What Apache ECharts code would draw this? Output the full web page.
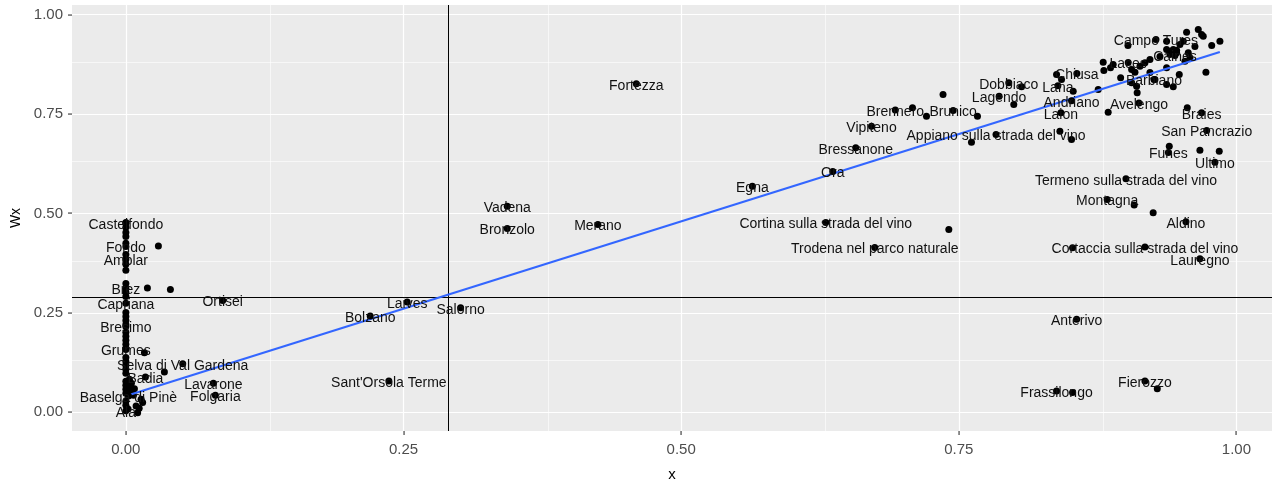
<!DOCTYPE html>
<html>
<head>
<meta charset="utf-8">
<script src="https://cdn.jsdelivr.net/npm/echarts@6/dist/echarts.min.js"></script>
<style>
  html, body { margin: 0; padding: 0; background: #fff; }
  #chart { width: 1274px; height: 481px; }
</style>
</head>
<body>
<div id="chart"></div>
<script>
// comuni con etichetta: nome, x, Wx
const labNames = [
  'Castelfondo', 'Fondo', 'Amblar', 'Brez', 'Capriana', 'Ortisei', 'Bresimo', 'Grumes',
  'Selva di Val Gardena', 'Badia', 'Lavarone', 'Folgaria', 'Baselga di Pinè', 'Ala',
  'Laives', 'Bolzano', 'Salorno', "Sant'Orsola Terme", 'Vadena', 'Bronzolo', 'Merano',
  'Fortezza', 'Egna', 'Cortina sulla strada del vino', 'Trodena nel parco naturale', 'Ora',
  'Bressanone', 'Vipiteno', 'Brennero', 'Brunico', 'Appiano sulla strada del vino',
  'Dobbiaco', 'Lagendo', 'Lana', 'Chiusa', 'Andriano', 'Laion', 'Campo Tures', 'Laces',
  'Caines', 'Barbiano', 'Avelengo', 'Braies', 'San Pancrazio', 'Funes', 'Ultimo',
  'Termeno sulla strada del vino', 'Montagna', 'Aldino', 'Cortaccia sulla strada del vino',
  'Lauregno', 'Anterivo', 'Frassilongo', 'Fierozzo'
]
const labX = [
  0, 0, 0, 0, 0, 0.0872, 0, 0,
  0.0512, 0.0176, 0.0788, 0.0806, 0.0023, 0,
  0.2533, 0.2200, 0.3014, 0.2368, 0.3434, 0.3434, 0.4250,
  0.4596, 0.5641, 0.6302, 0.6743, 0.6365,
  0.6572, 0.6714, 0.6928, 0.7449, 0.7835,
  0.7950, 0.7863, 0.8392, 0.8563, 0.8515, 0.8419, 0.9275, 0.9025,
  0.9446, 0.9257, 0.9122, 0.9686, 0.9732, 0.9387, 0.9806,
  0.9005, 0.8836, 0.9545, 0.9176,
  0.9671, 0.8561, 0.8380, 0.9176
]
const labY = [
  0.475, 0.417, 0.384, 0.312, 0.274, 0.281, 0.216, 0.158,
  0.122, 0.0887, 0.0729, 0.0427, 0.041, 0.004,
  0.2771, 0.2420, 0.2631, 0.0786, 0.5183, 0.4623, 0.4724,
  0.8259, 0.5686, 0.4774, 0.4145, 0.6055,
  0.6651, 0.7193, 0.7601, 0.7588, 0.6985,
  0.8284, 0.7947, 0.8208, 0.8517, 0.7831, 0.7530, 0.9372, 0.8794,
  0.8970, 0.8367, 0.7776, 0.7530, 0.7085, 0.6532, 0.6289,
  0.5872, 0.5352, 0.4791, 0.4153,
  0.3862, 0.2337, 0.0535, 0.0786
]

// altri comuni senza etichetta
const ptX = [
  0, 0, 0, 0, 0, 0, 0, 0, 0, 0, 0, 0, 0, 0, 0, 0,
  0, 0, 0, 0, 0, 0, 0, 0, 0, 0, 0, 0, 0, 0, 0,
  0.0293, 0.0194, 0.0401, 0.0167, 0.0347, 0.0077, 0.0137, 0.0151, 0.0092, 0.0106,
  0.0047, 0.0032, 0.005, 0.002, 0.0068, 0.012, 0.004,
  0.7358, 0.7083, 0.7209, 0.7668, 0.7614, 0.8065, 0.7995, 0.7410, 0.8410, 0.8515,
  0.8380, 0.8425, 0.8530, 0.8524, 0.9079, 0.9250, 0.9287, 0.8524,
  0.9551, 0.9656, 0.9686, 0.9701, 0.9777, 0.9851, 0.9725, 0.9371, 0.9521, 0.9371,
  0.9431, 0.9461, 0.9401, 0.9566, 0.9581, 0.9536, 0.9371, 0.9221, 0.9176, 0.9131,
  0.9056, 0.9086, 0.8800, 0.8806, 0.8957, 0.8755, 0.9101, 0.9106, 0.9266, 0.9371,
  0.9431, 0.9485, 0.8845, 0.9557, 0.9395, 0.9671, 0.9845, 0.8890, 0.9056, 0.9626,
  0.9311, 0.9491, 0.9023, 0.9221, 0.8866, 0.9416, 0.9461
]
const ptY = [
  0.477, 0.465, 0.452, 0.442, 0.425, 0.397, 0.372, 0.357, 0.324, 0.302, 0.291,
  0.251, 0.241, 0.231, 0.221, 0.201,
  0.191, 0.181, 0.171, 0.161, 0.138, 0.128, 0.118, 0.108, 0.098, 0.078, 0.068,
  0.058, 0.048, 0.028, 0.018,
  0.4178, 0.3123, 0.3090, 0.150, 0.1013, 0.0595, 0.0327, 0.0244, 0.0158, -0.001,
  0.0495, 0.0829, 0.073, 0.008, 0.0427, 0.01, 0.062,
  0.7990, 0.7656, 0.7445, 0.7445, 0.6791, 0.8183, 0.7739, 0.4598, 0.7068, 0.6859,
  0.8492, 0.8367, 0.8073, 0.4138, 0.5209, 0.5018, 0.0595, 0.0495,
  0.9555, 0.9623, 0.9497, 0.9455, 0.9221, 0.9329, 0.8550, 0.9329, 0.9329, 0.9121,
  0.9121, 0.9038, 0.8995, 0.9038, 0.8912, 0.8827, 0.8661, 0.8869, 0.8786, 0.8701,
  0.8618, 0.8550, 0.8802, 0.8593, 0.8410, 0.8116, 0.8198, 0.8033, 0.8367, 0.8241,
  0.8183, 0.8492, 0.7545, 0.7656, 0.6691, 0.6590, 0.6565, 0.8744, 0.8284, 0.9196,
  0.8945, 0.9246, 0.9221, 0.8543, 0.8660, 0.9080, 0.9100
]

// retta di regressione e medie
const fitX = [0, 0.985]
const fitY = [0.041, 0.906]
const meanX = 0.2887
const meanY = 0.2915

// tick degli assi
const majorTicks = [0, 0.25, 0.5, 0.75, 1]
const minorTicks = [0.125, 0.375, 0.625, 0.875]

const xMin = -0.0485, xMax = 1.032
const yMin = -0.047, yMax = 1.024

const FONT = 'Liberation Sans, Arial, sans-serif'
const chart = echarts.init(document.getElementById('chart'))

const gridLines = []
minorTicks.forEach(v => {
  gridLines.push({ xAxis: v, lineStyle: { width: 0.6 } })
  gridLines.push({ yAxis: v, lineStyle: { width: 0.6 } })
})
majorTicks.forEach(v => {
  gridLines.push({ xAxis: v, lineStyle: { width: 1.2 } })
  gridLines.push({ yAxis: v, lineStyle: { width: 1.2 } })
})

const axisCommon = {
  type: 'value',
  splitLine: { show: false },
  axisLine: { show: false, onZero: false },
  axisTick: { show: false },
  axisLabel: {
    customValues: majorTicks,
    formatter: v => v.toFixed(2),
    color: '#4D4D4D',
    fontSize: 15,
    fontFamily: FONT
  },
  nameTextStyle: { color: '#000', fontSize: 15, fontFamily: FONT }
}

const option = {
  animation: false,
  grid: {
    left: 72, right: 2, top: 5, bottom: 50,
    outerBoundsMode: 'none',
    containLabel: false,
    show: true, backgroundColor: '#EBEBEB', borderWidth: 0
  },
  xAxis: Object.assign({}, axisCommon, {
    min: xMin, max: xMax,
    name: 'x', nameLocation: 'middle', nameGap: 36,
    axisLabel: Object.assign({}, axisCommon.axisLabel, { margin: 11 })
  }),
  yAxis: Object.assign({}, axisCommon, {
    min: yMin, max: yMax,
    name: 'Wx', nameLocation: 'middle', nameGap: 39,
    nameTextStyle: { color: '#000', fontSize: 14, fontFamily: FONT },
    axisLabel: Object.assign({}, axisCommon.axisLabel, { margin: 9 })
  }),
  series: [
    {
      // griglia stile ggplot
      type: 'line', data: [], silent: true, z: 0,
      markLine: {
        silent: true, symbol: 'none', animation: false, z: 0,
        label: { show: false },
        lineStyle: { color: '#FFFFFF', type: 'solid' },
        data: gridLines
      }
    },
    {
      type: 'line', data: [], silent: true, z: 1,
      markLine: {
        silent: true, symbol: 'none', animation: false, z: 1,
        label: { show: false },
        lineStyle: { color: '#000000', type: 'solid', width: 1 },
        data: [{ xAxis: meanX }, { yAxis: meanY }]
      }
    },
    {
      type: 'scatter',
      data: ptX.map((x, i) => [x, ptY[i]]),
      symbolSize: 7,
      itemStyle: { color: '#000000', opacity: 1 },
      z: 3
    },
    {
      type: 'line',
      data: fitX.map((x, i) => [x, fitY[i]]),
      showSymbol: false,
      lineStyle: { color: '#3366FF', width: 2.2 },
      z: 4
    },
    {
      type: 'scatter',
      data: labX.map((x, i) => ({ value: [x, labY[i]], name: labNames[i] })),
      symbolSize: 7,
      itemStyle: { color: '#000000', opacity: 1 },
      label: {
        show: true,
        position: 'inside',
        offset: [0, 2],
        formatter: p => p.name,
        color: '#111111',
        fontSize: 14,
        fontFamily: FONT
      },
      z: 5
    }
  ]
}

chart.setOption(option)

// tacche degli assi sui valori principali, come rettangolini fuori dal pannello
const bottomPx = chart.convertToPixel({ xAxisIndex: 0, yAxisIndex: 0 }, [xMin, yMin])
const ticks = []
majorTicks.forEach(v => {
  const p = chart.convertToPixel({ xAxisIndex: 0, yAxisIndex: 0 }, [v, v])
  ticks.push({ type: 'rect', z: 100, silent: true,
    shape: { x: Math.round(p[0]) - 0.5, y: bottomPx[1], width: 1.1, height: 4 },
    style: { fill: '#333333' } })
  ticks.push({ type: 'rect', z: 100, silent: true,
    shape: { x: bottomPx[0] - 4, y: Math.round(p[1]) - 0.5, width: 4, height: 1.1 },
    style: { fill: '#333333' } })
})
chart.setOption({ graphic: { elements: ticks } })
</script>
</body>
</html>
